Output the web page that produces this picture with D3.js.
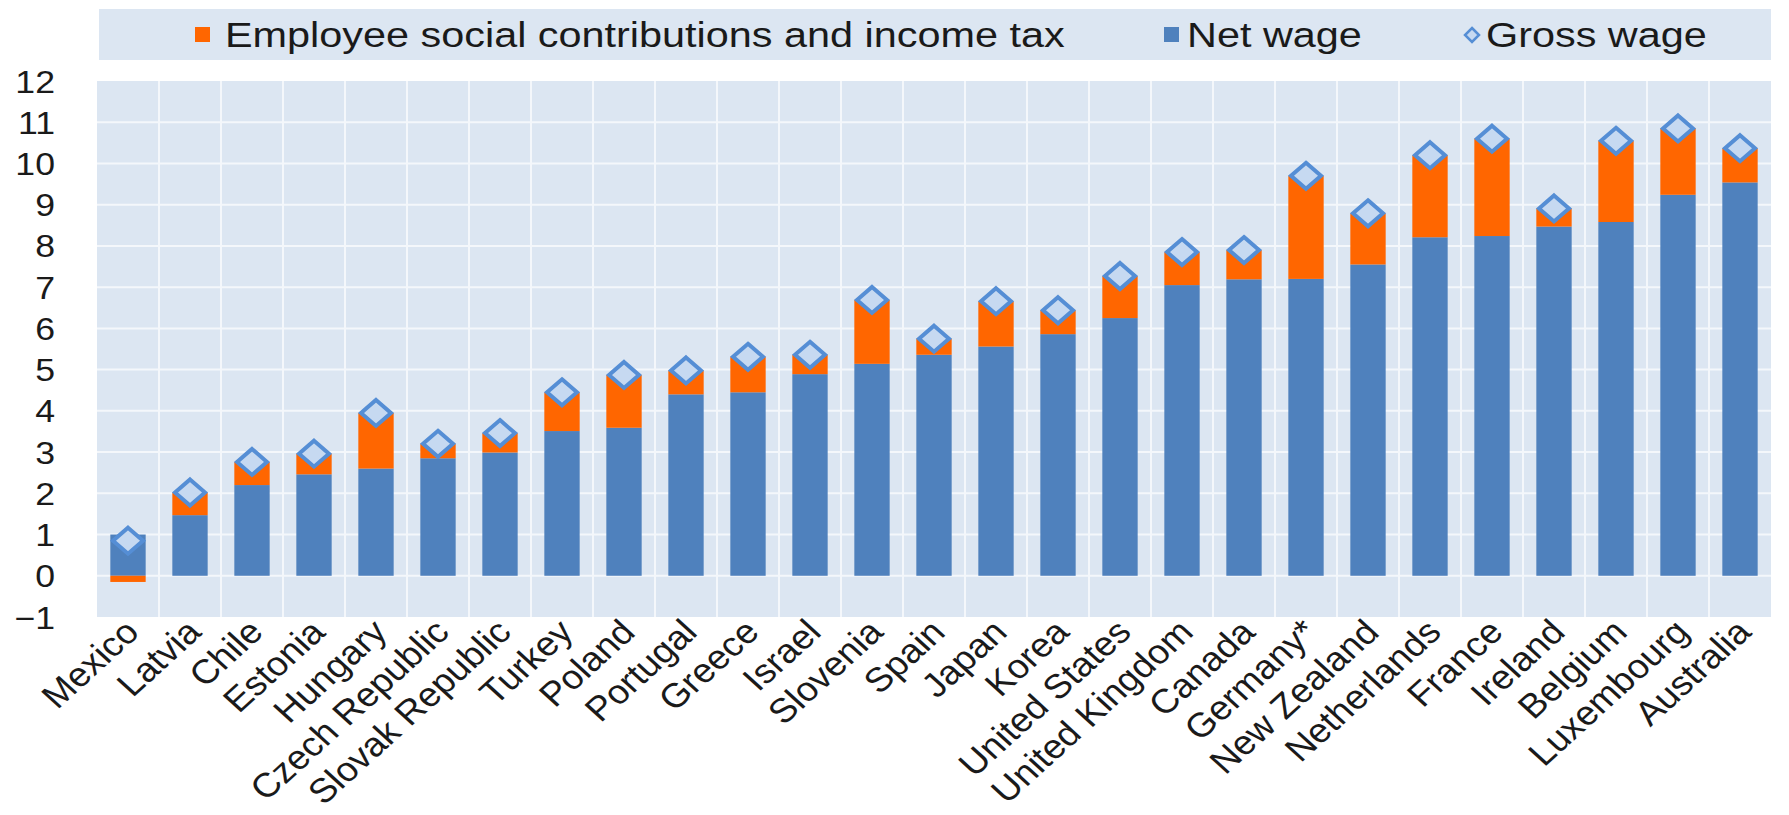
<!DOCTYPE html>
<html>
<head>
<meta charset="utf-8">
<script src="https://cdn.jsdelivr.net/npm/d3@7"></script>
<style>
  body { margin: 0; background: #fff; }
  text { font-family: "Liberation Sans", Arial, sans-serif; fill: #1a1a1a; }
</style>
</head>
<body>
<div id="wrapper"></div>
<script>
// values
const countries = ["Mexico", "Latvia", "Chile", "Estonia", "Hungary", "Czech Republic", "Slovak Republic",
  "Turkey", "Poland", "Portugal", "Greece", "Israel", "Slovenia", "Spain", "Japan", "Korea",
  "United States", "United Kingdom", "Canada", "Germany*", "New Zealand", "Netherlands", "France",
  "Ireland", "Belgium", "Luxembourg", "Australia"];
const netWage = [1.0, 1.47, 2.2, 2.46, 2.6, 2.85, 2.99, 3.51, 3.59, 4.4, 4.45, 4.89, 5.14, 5.36, 5.56, 5.86,
  6.25, 7.05, 7.19, 7.2, 7.55, 8.21, 8.24, 8.47, 8.58, 9.24, 9.54];
const grossWage = [0.85, 2.02, 2.76, 2.96, 3.95, 3.2, 3.46, 4.45, 4.87, 4.98, 5.31, 5.36, 6.69, 5.75, 6.66, 6.44,
  7.27, 7.85, 7.9, 9.7, 8.79, 10.2, 10.6, 8.91, 10.55, 10.85, 10.37];
const yTicks = [-1, 0, 1, 2, 3, 4, 5, 6, 7, 8, 9, 10, 11, 12];
const legendItems = ["Employee social contributions and income tax", "Net wage", "Gross wage"];

const orange = "#ff6600";
const blue = "#4f81bd";
const panel = "#dce6f2";
const sx = 1.2; // the original picture is stretched sideways

const data = countries.map((c, i) => ({
  country: c, net: netWage[i], gross: grossWage[i], tax: grossWage[i] - netWage[i]
}));

let dimensions = {
  width: 1789,
  height: 815,
  plot: { left: 97, right: 1771, top: 81, bottom: 617 }
};

const svg = d3.select("#wrapper").append("svg")
  .attr("width", dimensions.width)
  .attr("height", dimensions.height);

const xScale = d3.scaleBand()
  .domain(countries)
  .range([dimensions.plot.left, dimensions.plot.right])
  .paddingInner(0.43)
  .paddingOuter(0.215);
const yScale = d3.scaleLinear()
  .domain([-1, 12])
  .range([dimensions.plot.bottom, dimensions.plot.top]);

// plot background + grid
svg.append("rect")
  .attr("x", dimensions.plot.left).attr("y", dimensions.plot.top)
  .attr("width", dimensions.plot.right - dimensions.plot.left)
  .attr("height", dimensions.plot.bottom - dimensions.plot.top)
  .attr("fill", panel);

const step = xScale.step();
const bandEdges = d3.range(1, countries.length).map(i => dimensions.plot.left + i * step);
svg.append("g").selectAll("line").data(bandEdges).join("line")
  .attr("x1", d => d).attr("x2", d => d)
  .attr("y1", dimensions.plot.top).attr("y2", dimensions.plot.bottom)
  .attr("stroke", "#f4f7fb").attr("stroke-width", 2);
svg.append("g").selectAll("line").data(yTicks.slice(1, -1)).join("line")
  .attr("x1", dimensions.plot.left).attr("x2", dimensions.plot.right)
  .attr("y1", d => yScale(d)).attr("y2", d => yScale(d))
  .attr("stroke", "#f4f7fb").attr("stroke-width", 2);

// y axis labels
const yAxisGen = d3.axisLeft(yScale).tickValues(yTicks).tickSize(0).tickPadding(0);
const axisY = svg.append("g").attr("transform", "translate(55,0)").call(yAxisGen);
axisY.select(".domain").remove();
axisY.selectAll("text")
  .attr("x", 0).attr("dy", null)
  .attr("font-size", 31)
  .attr("font-family", "Liberation Sans, Arial, sans-serif")
  .attr("fill", "#1a1a1a")
  .attr("transform", `translate(0,11) scale(1.15,1)`)
  .attr("text-anchor", "end");

// bars
const bw = xScale.bandwidth();
svg.append("g").selectAll("rect").data(data).join("rect")
  .attr("x", d => xScale(d.country)).attr("width", bw)
  .attr("y", d => yScale(d.net)).attr("height", d => yScale(0) - yScale(d.net))
  .attr("fill", blue);
svg.append("g").selectAll("rect").data(data).join("rect")
  .attr("x", d => xScale(d.country)).attr("width", bw)
  .attr("y", d => d.tax >= 0 ? yScale(d.gross) : yScale(0))
  .attr("height", d => d.tax >= 0 ? yScale(d.net) - yScale(d.gross) : yScale(d.tax) - yScale(0))
  .attr("fill", orange);

// gross wage diamonds
const diamond = (hw, hh) => `M0,${-hh}L${hw},0L0,${hh}L${-hw},0Z`;
svg.append("g").selectAll("path").data(data).join("path")
  .attr("d", diamond(15, 13))
  .attr("transform", d => `translate(${xScale(d.country) + bw / 2},${yScale(d.gross)})`)
  .attr("fill", "#c6d9f1").attr("stroke", "#558ed5").attr("stroke-width", 4);

// x labels
svg.append("g").selectAll("text").data(countries).join("text")
  .attr("transform", d => `translate(${xScale(d) + bw / 2 + 13},634) scale(1.1,1) rotate(-45)`)
  .attr("text-anchor", "end")
  .attr("font-size", 34)
  .text(d => d);

// legend
svg.append("rect").attr("x", 99).attr("y", 9).attr("width", 1672).attr("height", 51).attr("fill", panel);
const lg = svg.append("g");
lg.append("rect").attr("x", 195).attr("y", 27).attr("width", 15).attr("height", 15).attr("fill", orange);
lg.append("rect").attr("x", 1164).attr("y", 27).attr("width", 15).attr("height", 15).attr("fill", blue);
lg.append("path").attr("d", diamond(7, 7)).attr("transform", "translate(1472,35)")
  .attr("fill", "#c6d9f1").attr("stroke", "#558ed5").attr("stroke-width", 2.5);
const legendX = [225, 1187, 1486];
lg.selectAll("text").data(legendItems).join("text")
  .attr("transform", (d, i) => `translate(${legendX[i]},47) scale(${sx},1)`)
  .attr("font-size", 34.5)
  .text(d => d);
</script>
</body>
</html>
